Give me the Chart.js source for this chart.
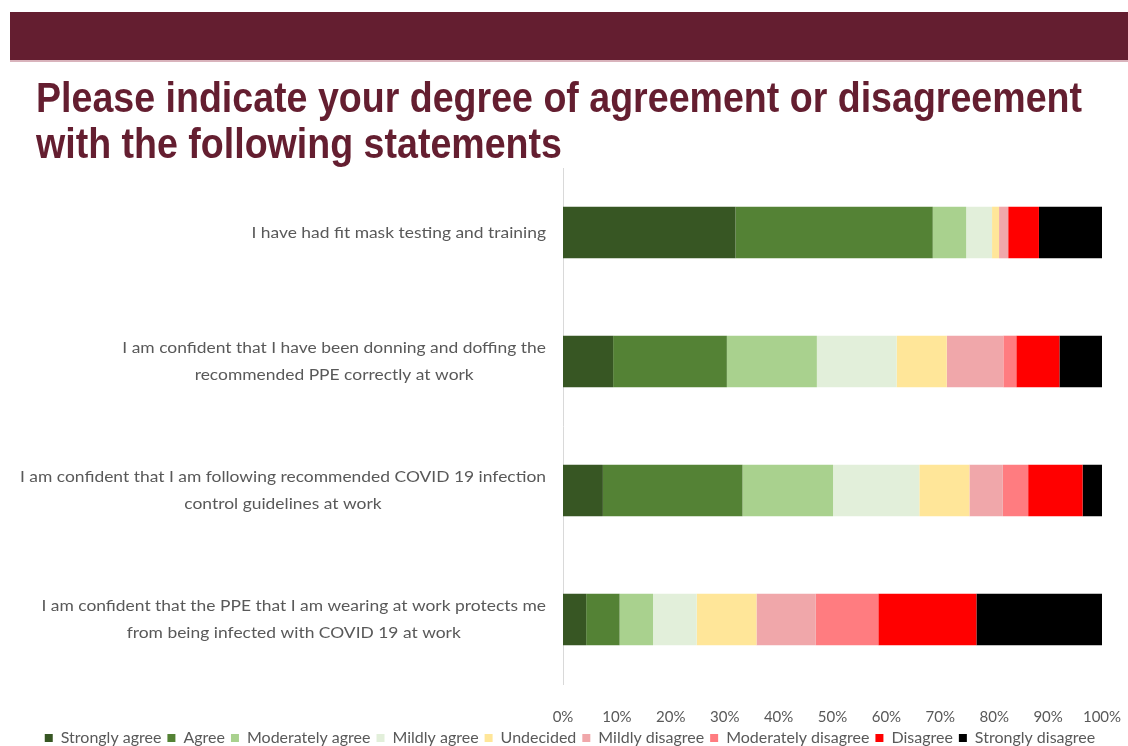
<!DOCTYPE html>
<html>
<head>
<meta charset="utf-8">
<script src="https://cdn.jsdelivr.net/npm/chart.js@4/dist/chart.umd.min.js"></script>
<style>
  html, body { margin: 0; padding: 0; background: #ffffff; }
  #wrap { position: relative; width: 1128px; height: 746px; }
  canvas { display: block; }
</style>
</head>
<body>
<div id="wrap"><canvas id="c" width="1128" height="746"></canvas></div>
<script>
// ---- Data ----
const titleLines = [
  "Please indicate your degree of agreement or disagreement",
  "with the following statements"
];
const categories = [
  ["I have had fit mask testing and training"],
  ["I am confident that I have been donning and doffing the", "recommended PPE correctly at work"],
  ["I am confident that I am following recommended COVID 19 infection", "control guidelines at work"],
  ["I am confident that the PPE that I am wearing at work protects me", "from being infected with COVID 19 at work"]
];
const seriesNames = [
  "Strongly agree", "Agree", "Moderately agree", "Mildly agree", "Undecided",
  "Mildly disagree", "Moderately disagree", "Disagree", "Strongly disagree"
];
const stronglyAgree      = [32.0,  9.3,  7.4,  4.3];
const agree              = [36.6, 21.1, 25.9,  6.2];
const moderatelyAgree    = [ 6.2, 16.7, 16.8,  6.2];
const mildlyAgree        = [ 4.8, 14.8, 16.0,  8.1];
const undecided          = [ 1.3,  9.3,  9.3, 11.1];
const mildlyDisagree     = [ 1.7, 10.5,  6.2, 11.0];
const moderatelyDisagree = [ 0.0,  2.4,  4.7, 11.6];
const disagree           = [ 5.7,  8.0, 10.1, 18.2];
const stronglyDisagree   = [11.7,  8.1,  3.6, 23.3];
const xTickValues = [0, 10, 20, 30, 40, 50, 60, 70, 80, 90, 100];

// ---- Styles ----
const seriesColors = ["#375623", "#548235", "#A9D18E", "#E2EFDA", "#FFE699",
                      "#F0A7AA", "#FF7C80", "#FF0000", "#000000"];
const seriesValues = [stronglyAgree, agree, moderatelyAgree, mildlyAgree, undecided,
                      mildlyDisagree, moderatelyDisagree, disagree, stronglyDisagree];
const maroon = "#641E30";
const labelFont = "Lato, 'Open Sans', sans-serif";

const datasets = seriesNames.map((name, i) => ({
  label: name,
  data: seriesValues[i],
  backgroundColor: seriesColors[i],
  borderWidth: 0,
  barPercentage: 0.4,
  categoryPercentage: 1.0
}));

const decorPlugin = {
  id: 'decor',
  beforeDraw(chart) {
    const ctx = chart.ctx;
    ctx.save();
    ctx.fillStyle = maroon;
    ctx.fillRect(10, 12, 1118, 48);
    ctx.fillStyle = "#D9B3BC";
    ctx.fillRect(10, 60, 1118, 2);
    // title
    ctx.fillStyle = maroon;
    ctx.font = "bold 42px 'Liberation Sans', Arial, sans-serif";
    ctx.textBaseline = "alphabetic";
    ctx.textAlign = "left";
    const w0 = ctx.measureText(titleLines[0]).width;
    const sx = 1046 / w0;
    const baselines = [112, 158];
    titleLines.forEach((t, i) => {
      ctx.save();
      ctx.translate(36, baselines[i]);
      ctx.scale(sx, 1);
      ctx.fillText(t, 0, 0);
      ctx.restore();
    });
    ctx.restore();
  },
  afterDraw(chart) {
    const ctx = chart.ctx;
    const yScale = chart.scales.y;
    const right = chart.chartArea.left - 17;
    const lineH = 27;
    ctx.save();
    ctx.font = "16px " + labelFont;
    ctx.fillStyle = "#595959";
    ctx.textBaseline = "middle";
    ctx.textAlign = "center";
    // horizontal fit so the longest line spans the reference width
    let longest = 0;
    categories.forEach(lines => lines.forEach(l => { longest = Math.max(longest, ctx.measureText(l).width); }));
    const sx = Math.min(1.15, Math.max(0.85, 526 / longest));
    categories.forEach((lines, i) => {
      const y = yScale.getPixelForValue(i);
      const blockW = Math.max(...lines.map(l => ctx.measureText(l).width)) * sx;
      const cx = right - blockW / 2;
      const y0 = y - (lines.length - 1) * lineH / 2;
      lines.forEach((l, k) => {
        ctx.save();
        ctx.translate(cx, y0 + k * lineH);
        ctx.scale(sx, 1);
        ctx.fillText(l, 0, 0);
        ctx.restore();
      });
    });
    ctx.restore();
  }
};

function build() {
  new Chart(document.getElementById('c'), {
    type: 'bar',
    data: { labels: categories.map(c => c.join(' ')), datasets },
    options: {
      indexAxis: 'y',
      responsive: false,
      animation: false,
      layout: { padding: { top: 168, right: 26, left: 38, bottom: -10 } },
      scales: {
        x: {
          stacked: true,
          min: 0, max: 100,
          afterBuildTicks(scale) { scale.ticks = xTickValues.map(v => ({ value: v })); },
          grid: { display: false },
          border: { display: false },
          ticks: {
            callback: v => v + '%',
            color: '#595959',
            font: { family: labelFont, size: 15 },
            padding: 16,
            maxRotation: 0,
            autoSkip: false
          },
          afterFit(scale) {
            scale.height = 40;
            scale.paddingLeft = 0;
            scale.paddingRight = 0;
          }
        },
        y: {
          stacked: true,
          grid: { display: false },
          border: { display: true, color: '#D9D9D9', width: 1 },
          ticks: { display: false },
          afterFit(scale) { scale.width = 525; }
        }
      },
      plugins: {
        legend: {
          position: 'bottom',
          labels: {
            boxWidth: 8,
            boxHeight: 8,
            padding: 6,
            color: '#595959',
            font: { family: labelFont, size: 16 }
          }
        },
        tooltip: { enabled: false }
      }
    },
    plugins: [decorPlugin]
  });
}

if (document.fonts && document.fonts.load) {
  Promise.all([
    document.fonts.load("16px Lato"),
    document.fonts.load("bold 42px 'Liberation Sans'")
  ]).then(build, build);
} else {
  build();
}
</script>
</body>
</html>
